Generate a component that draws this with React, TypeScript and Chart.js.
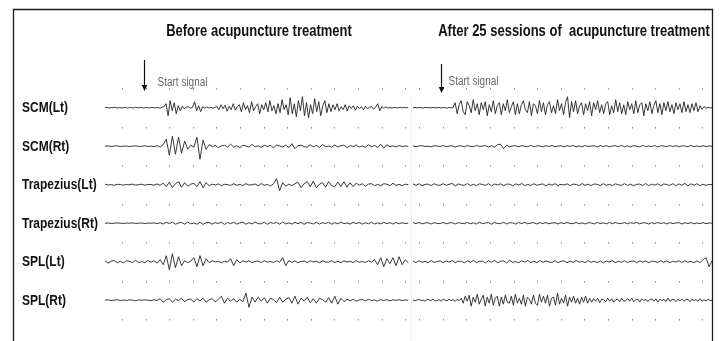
import { useEffect, useRef } from "react";
import { Chart, registerables } from "chart.js";

Chart.register(...registerables);

// ---- labels ----
const muscles = ["SCM(Lt)", "SCM(Rt)", "Trapezius(Lt)", "Trapezius(Rt)", "SPL(Lt)", "SPL(Rt)"];
const panelTitles = ["Before acupuncture treatment", "After 25 sessions of  acupuncture treatment"];
const startSignalLabel = "Start signal";

// ---- time axis (grid units) ----
const panelStart = [0, 13.05];
const panelEnd = [12.85, 25.72];
const startSignalTimes = [1.65, 14.24];
const gridStart = [0.72, 13.31];
const X_MAX = 25.76;

// ---- EMG amplitudes, before treatment ----
const scmLtBefore = [
  0, 0.3, -0.4, 0.2, 0, 0.5, -0.3, 0.2, -0.2, 0,
  0.4, -0.5, 0.3, 0, -0.3, 0.5, -0.2, 0, 0.3, -0.4,
  0.2, 0, -0.3, 0.4, 0, -0.2, 0.3, -0.5, 0.5, 1,
  4, -8, 7, -3, 5, -6, 2, -3, 1.5,
  -1, 0.5, 0.8, -0.5, 0.3,
  6, -3, 2, -4, 1,
  -0.5, 0.8, -0.3, 0.5, -0.6, 0.4, 1,
  -2, 3, -1, 2.5, -3.5, 1.5, -2, 4, -2.5, 1,
  3, -4, 5, -2, 2, -5, 6, -3, 1, 4,
  -6, 3, -2, 5, -4, 7, -3, 2, -6, 4,
  -5, 8, -2, 3, -7,
  10, -6, 4, -9, 7, -3, 11, -8, 5, -10,
  3, -6, 9, -4, 6, -8, 2, 7, -5, 4,
  -4, 3, -2, 4, -3, 1, -2, 3, -3, 2,
  -1, 2, -2.5, 1.5, -1, 1, -2, 1.5, -1, 0.5,
  1, -1.5, 1,
  4, -3,
  1, -0.5, 0.8, -0.3, 0.2, -0.5, 0.4, 0, -0.3, 0.5, -0.2, 0.3, 0, 0,
];
const scmRtBefore = [
  0, 0.3, -0.2, 0.1, 0.4, -0.3, 0, 0.2, -0.4, 0.1,
  0.3, -0.2, 0, 0.4, -0.3, 0.2, -0.5, 0.6, -0.8, 1.5,
  7, -9, 10, -8, 9, -7, 5, -3, 1, -1, 9, -13, 6, -3,
  1.5, -0.5, 0.8, -1.5, 0.3, 1, -0.8, 2, -1, 0.5,
  -1.5, 1, 0.3, -1, 1.8, -0.6, 0.4, -1.2, 1, -0.3,
  0.8, -1.6, 1.2, 0.2, -0.8, 1, -1.4, 2.5, -2.5, 0.6,
  1, -0.5, -1, 1.4, -0.6, 0.8, -1.2, 1.5, -0.4, 0.2,
  -1, 1.2, -0.8, 0.5, 1, -1.5, 0.6, -0.4, 1.2, -0.9,
  0.3, -1, 1.4, -0.6, 0.8, -1.3, 2, -2, 1.5, -0.6,
  0.4, -0.8, 0.6, -0.3, 0.2, 0,
];
const trapLtBefore = [
  0.5, -0.3, 0.1, -0.6, 0.4, 0.2, -0.5, 0.3, -0.1, 0.6,
  -0.4, 0, 0.5, -0.6, 0.3, 0.2, -0.5, 0.8, -0.6,
  1.5, -2, 2.5, -3, 1, 3, -2.5, 2, -1.5, 0.5, 1.5, -2, 3, -3, 2,
  -1, 0.6, -0.3, 0.8, -1, 0.4, 0.2, -0.8, 1, -0.5, 0.3,
  -0.9, 1.1, -0.4, 0, 0.7, -1, 1.2, -0.6, 0.3, -1.4, 1,
  6, -6,
  2, -1.5, 0.6, -1, 1,
  2.5, -3, 1, 3, -2, 3.5, -3, 0.5, 2, -2.5, 3, -1, -2, 2.5, -2, 3, -2.5, 2,
  -2, 1.5, -0.5, 1, -1.5, 0.6, 1, -1, 0.3, -1.2, 1, 0.5, -1, 1.5, -0.8, 0.4, -1, 0.5, 0,
];
const trapRtBefore = [
  0, 0.2, -0.2, 0, 0.3, 0, -0.3, 0.1, 0, 0.3,
  -0.2, 0, 0.2, -0.3, 0.1, 0, 0.3, -0.4, 0.5,
  -0.8, 1, -0.4, 1.2, -1, 0.3, 0.8, -1, 1.2, -0.6,
  0.2, -1, 1, -1.2, 0.5, 0.8, -1, 0.6, -0.3, 1,
  -1.2, 0.8, -0.5, 1, -0.9, 0.3, 1.1, -1, 0.6, -0.8,
  1.2, -0.4, -0.6, 1, -1.1, 0.7, -0.2, 0.9, -1, 1.2,
  -0.7, 0.4, -0.9, 1, -0.5, 0.8, -1.1, 0.6, 0.2, -0.8,
  1, -0.9, 0.5, -0.3, 0.9, -1, 0.6, -0.7, 1.1, -0.5,
  0.3, -0.9, 0.8, -0.4, 0.7, -1, 0.5, -0.6, 1, -0.8,
  0.4, -0.7, 0.9, -0.5, 0.6, -0.9, 0.8, -0.6, 0.5, -0.3,
  0,
];
const splLtBefore = [
  1, -1.5, 0.5, 1.2, -1, 0.3, -1.2, 1, 0.4, -0.8,
  1.5, -1, 0.2, -1, 1.2, -0.5, 1, -1.4, 2,
  -3, 6, -8, 8, -6, 5, -4, 1, -1, 0.5,
  4, -5, 6, -4, 3,
  -1, 1, -0.3, 0.6, -1, 0.4, -0.5,
  3, -4, 2,
  -1, 0.8, -0.4, 1, -1, 0.3, 0.6, -0.9, 1, -0.5, 0.2, -0.8, 1, -0.6,
  4, -4,
  1, -0.6, 0.8, -1, 0.3, 0.5, -0.9, 1, -0.4, 0.6,
  -1, 0.8, -0.2, -0.6, 1, -0.8, 0.4, -1, 0.9, -0.3,
  0.5, -0.9, 1, -0.6, 0.2, -0.8, 1, -0.5,
  2, -3, 4, -5, 3, -2, 4, -4, 5, -3, 2, -1,
];
const splRtBefore = [
  0, 0.4, -0.3, 0.1, 0.5, -0.4, 0.2, -0.2, 0.4, 0,
  -0.5, 0.3, -0.1, 0.4, 0, -0.4, 0.5, -0.3,
  1.5, -2, 0.5, 1.5, -2, 1, -0.5, 2, -1.5, 0.8,
  1.2, -2, 1.5, -0.6, 2, -2, 0.5, 1.5, -1.8, 1,
  4, -3,
  2, -1, 1.5, -2, 0.8, -1.5,
  7, -7, 3,
  -2, 3, -1, 2.5, -3, 2, 0.5, -2.5, 3, -2,
  1, 2.5, -3, 4, -4, 2, -1, 3, -2.5, 1.5,
  -3, 2, 0.5, -2, 2.5, -3, 4, -4, 2,
  -1.5, 1, -0.6, 0.8, -1, 0.4, 0.6, -0.8, 1, -0.5,
  0.3, -0.9, 0.8, -0.4, 0.6, -0.8, 0.5, -0.3, 0.6, -0.4,
  0.2, 0,
];

// ---- EMG amplitudes, after 25 sessions ----
const scmLtAfter = [
  0, 0.3, -0.3, 0.2, 0, -0.4, 0.3, 0, 0.2, -0.3,
  0.4, -0.2, 0, 0.3, -0.3, 0.2, 0, -0.4, 0.3, -0.2, 0.5,
  5, -6, 3, 7, -4, -7, 6, 2, -5, 8,
  -3, 4, -7, 5, -2, 6, -8, 3, -4, 7,
  -6, 2, 5, -7, 4, -3, 8, -5, 1, 6,
  -7, 4, -6, 3, 7, -2, -5, 6, -8, 4,
  2, -6, 7, -4, 5, -7, 3, 6, -5, 2,
  -6, 8, -3, 4, -7, 5,
  11, -10,
  6, -4, 7, -6, 2, 5, -7, 4, -3, 6,
  -8, 5, -2, 7, -5, 3, -6, 4, 6, -7,
  2, -5, 8, -4, 5, -6, 3, -7, 6, -2,
  4, -6, 7, -5, 3, 5, -8, 4, -3, 6,
  -6, 2, 7, -5, 4, -7, 5, -3, 6, -4,
  3, -6, 5, -2, 4, -5, 6, -4, 3, -5,
  4, -3, 5, -4,
  2, -1.5, 1, -0.5, 0.3, -0.2, 0,
];
const scmRtAfter = [
  0.4, -0.5, 0.2, 0.6, -0.4, 0, -0.6, 0.5, 0.2, -0.3,
  0.7, -0.6, 0.1, 0.5, -0.8, 0.4, 0.3, -0.7, 0.6, -0.2,
  -0.5, 0.8, -0.4, 0.2, 0.6, -0.8, 0.5, -0.9, 1.5, 2,
  -2.5, 1, -0.6, 0.3, 0.5, -0.7, 0.6, -0.2, -0.5, 0.8,
  -0.6, 0.3, 0.4, -0.8, 0.6, -0.3, 0.7, -0.5, 0.1, 0.6,
  -0.8, 0.5, -0.2, 0.7, -0.6, 0.3, -0.7, 0.8, -0.4, 0.2,
  0.5, -0.8, 0.6, -0.3, 0.6, -0.7, 0.2, 0.5, -0.6, 0.8,
  -0.5, 0.3, -0.7, 0.6, 0.1, -0.6, 0.8, -0.5, 0.3, -0.4,
  0.7, -0.8, 0.4, 0.2, -0.6, 0.7, -0.3, 0.5, -0.7, 0.4,
  0.2, -0.6, 0.8, -0.5, 0.3, -0.6, 0.5, -0.3, 0.2, 0,
];
const trapLtAfter = [
  0.8, -0.6, 1, -1.1, 0.3, 0.6, -0.9, 1, -0.4, -0.5,
  1, -0.7, 0.5, 1.2, -1.3, 0.8, -0.3, -0.6, 1.1, -0.8,
  0.4, -1, 0.9, 0.2, -0.7, 1, -1.2, 0.6, -0.2, 0.9,
  -1, 0.5, 0.6, -1.1, 0.8, -0.4, 1.2, -0.9, 0.3, -0.8,
  1, -0.6, 0.2, 0.8, -1.1, 0.7, -0.5, 1, -0.9, 0.4,
  -0.3, 0.9, -1, 0.6, 0.2, -0.9, 1.1, -0.7, 0.5, -1,
  0.8, 0.3, -0.9, 1, -0.6, 0.4, -1, 0.9, -0.2, -0.6,
  1, -0.8, 0.6, -1, 0.3, 0.7, -0.9, 1.2, -1, 0.5,
  -0.4, 0.9, -1, 0.7, 0.2, -0.8, 1, -1.2, 0.8, -0.5,
  1.3, -1.2, 0.9, -0.6, 1, -1, 0.5, -0.7, 0.4, 0,
];
const trapRtAfter = [
  0.6, -0.4, 0.8, -0.7, 0.2, 0.5, -0.8, 0.6, -0.3, -0.4,
  0.8, -0.6, 0.3, 0.5, -0.8, 0.7, -0.2, -0.5, 0.8, -0.6,
  0.4, -0.8, 1, -0.5, 0.2, 0.6, -1, 0.8, -0.3, -0.4,
  0.9, -0.8, 0.5, 0.3, -0.9, 0.7, -0.4, 0.8, -0.6, 0.2,
  0.5, -0.8, 0.6, -0.3, 0.7, -0.6, 0.2, 0.5, -0.8, 0.6,
  -0.4, 0.7, -0.2, -0.5, 0.8, -0.6, 0.4, -0.8, 0.5, 0.2,
  -0.7, 0.8, -0.4, 0.3, -0.6, 0.7, -0.5, 0.8, -0.3, -0.4,
  0.6, -0.7, 0.5, -0.2, 0.8, -0.6, 0.3, 0.4, -0.8, 0.6,
  -0.5, 0.7, -0.3, 0.5, -0.7, 0.6, -0.4, 0.2, 0.6, -0.8,
  0.5, -0.4, 0.7, -0.6, 0.3, -0.5, 0.6, -0.4, 0.2, 0,
];
const splLtAfter = [
  0.6, -0.9, 1, -0.5, 0.3, -1, 1.1, -0.6, 0.2, 0.8,
  -1, 0.7, -0.4, 1.2, -1, 0.5, 0.4, -1.1, 0.9, -0.6,
  1.2, -0.8, 0.3, 0.6, -1.2, 1, -0.5, 1.3, -1, 0.4,
  0.8, -1.3, 1.5, -0.7, 0.2, -1.1, 1, -0.4, 1.2, -0.9,
  0.5, -1, 1.2, -0.6, 0.8, -0.3, -0.7, 1.1, -1, 0.4,
  0.9, -1.1, 0.6, -0.8, 1.2, -0.5, 0.2, -0.9, 1, -0.6,
  0.5, -1, 0.8, -1.2, 0.7, -0.3, 1, -0.8, 0.4, -0.6,
  1, -0.9, 0.3, 0.7, -1, 0.6, -0.4, 0.9, -1, 0.5,
  0.2, -0.8, 1, -0.6, 0.8, -1, 0.5, -0.3, 0.9, -0.8,
  1, -0.6, 0.4, -1, 0.8, -0.9, 2, 4, -5, 1,
];
const splRtAfter = [
  0.5, -0.8, 0.3, 1, -0.6, 0.2, -1, 0.8, 0.4, -0.5,
  1.2, -0.8, -0.3, 0.6, -1, 0.9, 0.2, -0.7, 1, -0.4,
  0.5, -1.2, 1, -0.5,
  2, -3, 4, -1, 5, -6, 3, -2, 6, -4,
  1, 5, -6, 3, -3, 6, -5, 2, 4, -6,
  3, -4, 5, -2, -3, 4, -5, 6, -3, 2,
  -4, 5, -6, 3, 1, -4, 5, -3, -5, 6,
  -2, 4, -3, 5, -6, 2, 3, -5, 7, -4,
  2, -3, 5, -6, 3, -2, 4, -3, 2, -4,
  3, -2, 4, -3, 2,
  -2, 1.5, -1, 2, -2.5, 1, 0.5, -1.5, 2, -1,
  1.5, -2, 0.5, 1, -1.5, 2, -1, -0.5, 1.5, -1,
  2, -1.5, 0.5, 1, -2, 1.5, -0.5, 1, -1.5, 0.8,
  1.2, -1, 1.5, -2, 1, -0.5, 1, -1.5, 2, -1,
  0.5, 1, -1.5, 1, -0.8, 1.2, -1, 0.5, 1, -1.5,
  1, -0.5, 0.8, -1, 1.5, -1, 0.5, -0.8, 1, -0.5,
  0,
];

const beforeTraces = [scmLtBefore, scmRtBefore, trapLtBefore, trapRtBefore, splLtBefore, splRtBefore];
const afterTraces = [scmLtAfter, scmRtAfter, trapLtAfter, trapRtAfter, splLtAfter, splRtAfter];

// ---- layout constants (styles, not data) ----
const ROW_GAP = 38.5;
const DOT_OFFSET = 19.3;
const Y_MAX = 107.7;
const Y_MIN = Y_MAX - 341;
const FONT = "'Liberation Sans', Arial, Helvetica, sans-serif";

function drawStretched(
  ctx: CanvasRenderingContext2D,
  text: string,
  x: number,
  y: number,
  font: string,
  color: string,
  align: CanvasTextAlign,
  baseline: CanvasTextBaseline,
  sy: number
) {
  ctx.save();
  ctx.translate(x, y);
  ctx.scale(1, sy);
  ctx.font = font;
  ctx.fillStyle = color;
  ctx.textAlign = align;
  ctx.textBaseline = baseline;
  ctx.fillText(text, 0, 0);
  ctx.restore();
}

const decorPlugin = {
  id: "emgDecor",
  beforeDatasetsDraw(chart: any) {
    const ctx: CanvasRenderingContext2D = chart.ctx;
    const xs = chart.scales.x;
    const ys = chart.scales.y;
    ctx.save();
    const divX = Math.round(xs.getPixelForValue((panelEnd[0] + panelStart[1]) / 2)) + 0.5;
    ctx.strokeStyle = "#efefef";
    ctx.lineWidth = 1;
    ctx.beginPath();
    ctx.moveTo(divX, 96);
    ctx.lineTo(divX, 341);
    ctx.stroke();
    ctx.fillStyle = "#8c8c8c";
    for (let p = 0; p < 2; p++) {
      for (let j = 0; j < 13; j++) {
        const px = Math.round(xs.getPixelForValue(gridStart[p] + j));
        for (let r = 0; r <= muscles.length; r++) {
          const py = Math.round(ys.getPixelForValue(-ROW_GAP * r + DOT_OFFSET));
          ctx.fillRect(px, py, 1, 1.5);
        }
      }
    }
    ctx.restore();
  },
  afterDraw(chart: any) {
    const ctx: CanvasRenderingContext2D = chart.ctx;
    const xs = chart.scales.x;
    const ys = chart.scales.y;
    ctx.save();
    ctx.strokeStyle = "#1a1a1a";
    ctx.lineWidth = 1.3;
    ctx.beginPath();
    ctx.moveTo(13.5, 341);
    ctx.lineTo(13.5, 9.5);
    ctx.lineTo(712.5, 9.5);
    ctx.lineTo(712.5, 341);
    ctx.stroke();
    const titleX = [259, 574];
    panelTitles.forEach((t, i) =>
      drawStretched(ctx, t, titleX[i], 35.5, `bold 13px ${FONT}`, "#111", "center", "alphabetic", 1.2)
    );
    muscles.forEach((m, k) => {
      const py = ys.getPixelForValue(-ROW_GAP * k) + 0.5;
      drawStretched(ctx, m, 22, py, `bold 12px ${FONT}`, "#111", "left", "middle", 1.2);
    });
    const arrowTop = [60, 64];
    const arrowTip = [91, 93];
    const textDx = [13, 7];
    const textY = [83, 82];
    for (let p = 0; p < 2; p++) {
      const ax = Math.round(xs.getPixelForValue(startSignalTimes[p])) + 0.5;
      ctx.strokeStyle = "#111";
      ctx.lineWidth = 1.2;
      ctx.beginPath();
      ctx.moveTo(ax, arrowTop[p]);
      ctx.lineTo(ax, arrowTip[p] - 5);
      ctx.stroke();
      ctx.fillStyle = "#111";
      ctx.beginPath();
      ctx.moveTo(ax - 2.8, arrowTip[p] - 6);
      ctx.lineTo(ax + 2.8, arrowTip[p] - 6);
      ctx.lineTo(ax, arrowTip[p]);
      ctx.closePath();
      ctx.fill();
      drawStretched(ctx, startSignalLabel, ax + textDx[p], textY[p], `10px ${FONT}`, "#666", "left", "middle", 1.2);
    }
    ctx.restore();
  },
};

export default function App() {
  const canvasRef = useRef<HTMLCanvasElement | null>(null);

  useEffect(() => {
    if (!canvasRef.current) return;
    const datasets: any[] = [];
    [beforeTraces, afterTraces].forEach((traces, p) => {
      traces.forEach((arr, k) => {
        const step = (panelEnd[p] - panelStart[p]) / (arr.length - 1);
        datasets.push({
          label: `${muscles[k]} ${p === 0 ? "before" : "after"}`,
          data: arr.map((v, i) => ({ x: panelStart[p] + i * step, y: -ROW_GAP * k + v })),
          borderColor: "#222",
          borderWidth: 0.9,
          pointRadius: 0,
          tension: 0,
          fill: false,
        });
      });
    });

    const chart = new Chart(canvasRef.current, {
      type: "line",
      data: { datasets },
      options: {
        animation: false,
        responsive: false,
        devicePixelRatio: 1,
        events: [],
        layout: { padding: { left: 105, right: 10, top: 0, bottom: 0 } },
        scales: {
          x: { type: "linear", min: 0, max: X_MAX, display: false },
          y: { type: "linear", min: Y_MIN, max: Y_MAX, display: false },
        },
        plugins: {
          legend: { display: false },
          tooltip: { enabled: false },
          title: { display: false },
        },
      },
      plugins: [decorPlugin],
    });
    return () => chart.destroy();
  }, []);

  return (
    <div style={{ position: "absolute", left: 0, top: 0, width: 723, height: 341, background: "#fff" }}>
      <canvas ref={canvasRef} width={723} height={341} />
    </div>
  );
}
